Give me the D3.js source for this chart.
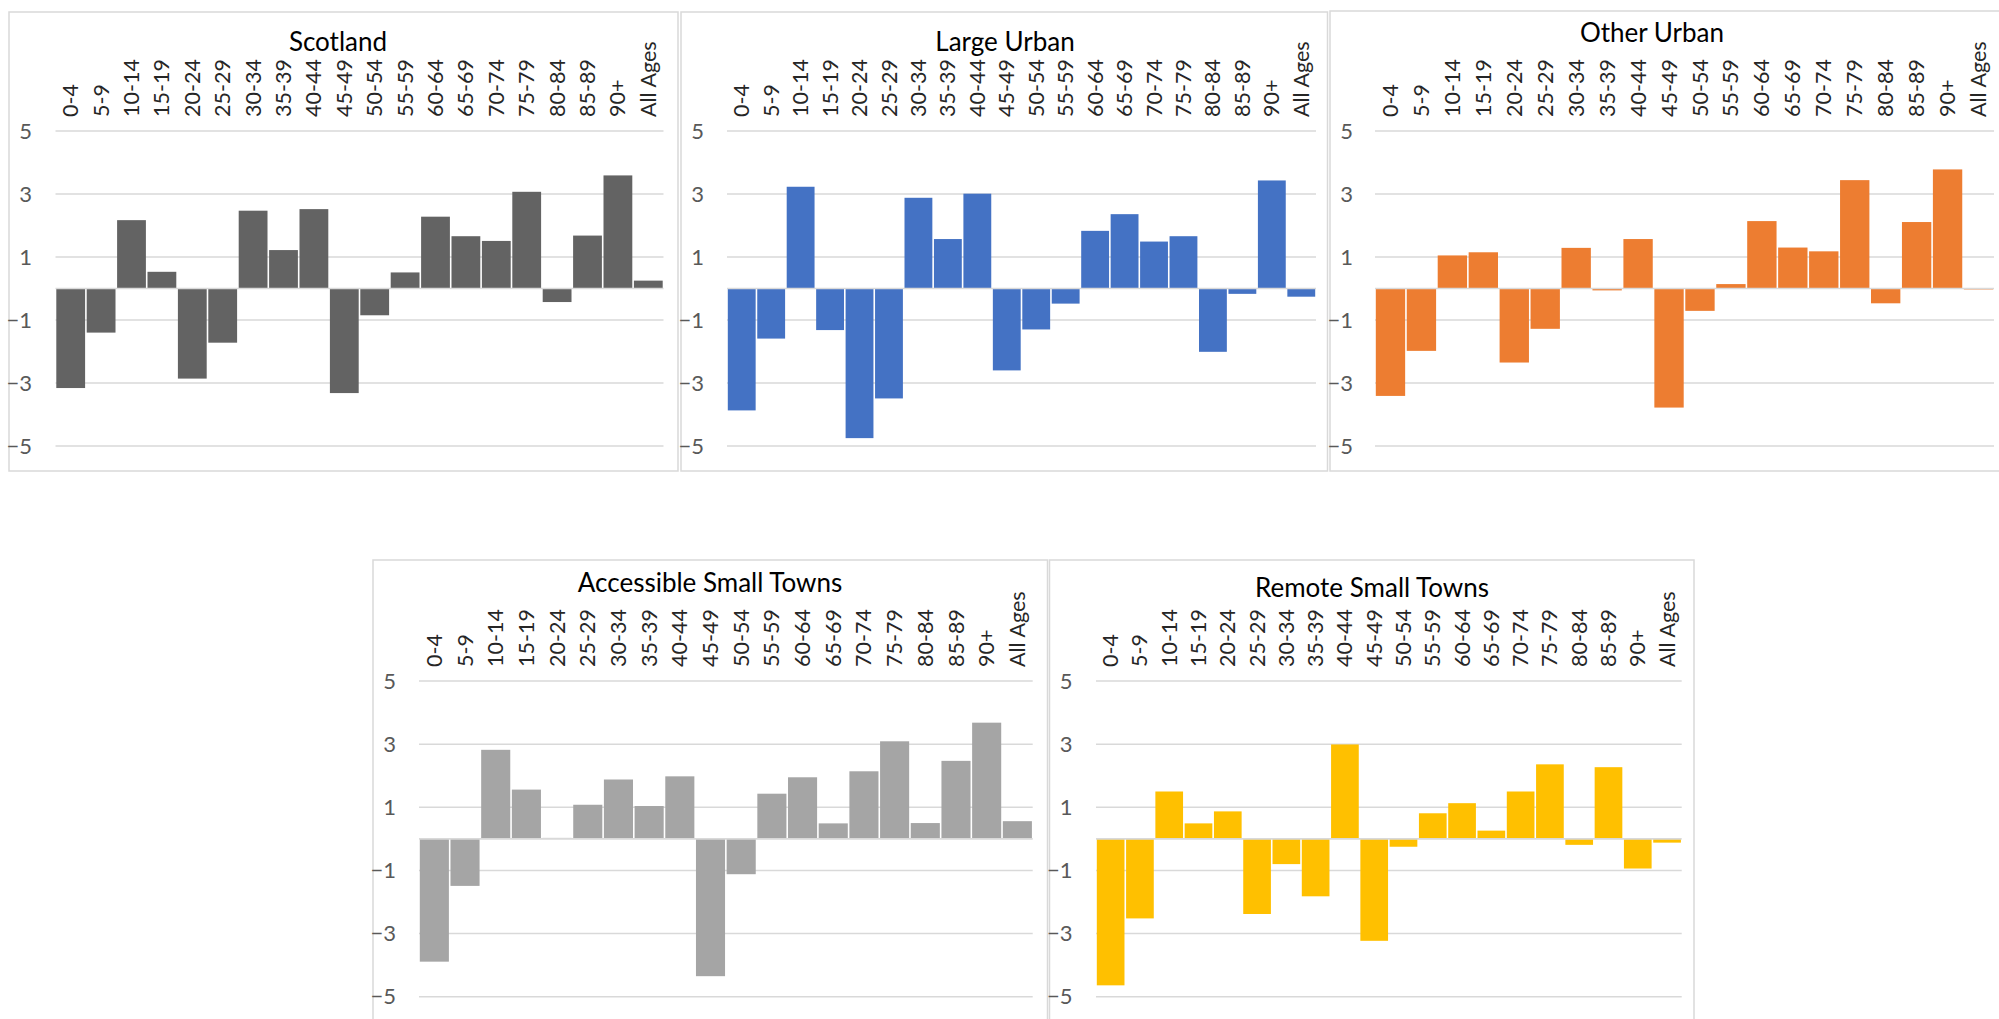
<!DOCTYPE html>
<html>
<head>
<meta charset="utf-8">
<script src="https://cdn.jsdelivr.net/npm/d3@7/dist/d3.min.js"></script>
<style>
  html, body { margin: 0; padding: 0; background: #fff; }
  svg { display: block; }
  text { font-family: Lato, "Open Sans", sans-serif; }
</style>
</head>
<body>
<svg id="chart" width="1999" height="1019"></svg>
<script>
// Age bands along the x axis
const ageGroups = ["0-4", "5-9", "10-14", "15-19", "20-24", "25-29", "30-34", "35-39",
  "40-44", "45-49", "50-54", "55-59", "60-64", "65-69", "70-74", "75-79",
  "80-84", "85-89", "90+", "All Ages"];

// Percentage change by age band for each area type
const scotland = [-3.16, -1.40, 2.17, 0.53, -2.86, -1.72, 2.47, 1.22, 2.52, -3.32,
  -0.85, 0.51, 2.28, 1.66, 1.51, 3.07, -0.43, 1.68, 3.59, 0.25];
const largeUrban = [-3.87, -1.59, 3.23, -1.32, -4.75, -3.49, 2.88, 1.57, 3.01, -2.60,
  -1.30, -0.48, 1.83, 2.36, 1.49, 1.66, -2.01, -0.17, 3.43, -0.26];
const otherUrban = [-3.41, -1.98, 1.05, 1.15, -2.35, -1.28, 1.29, -0.06, 1.57, -3.78,
  -0.71, 0.14, 2.14, 1.30, 1.18, 3.44, -0.47, 2.11, 3.78, -0.03];
const accessibleSmallTowns = [-3.89, -1.49, 2.82, 1.56, 0.03, 1.08, 1.88, 1.04, 1.98, -4.35,
  -1.12, 1.43, 1.95, 0.49, 2.14, 3.09, 0.50, 2.47, 3.68, 0.56];
const remoteSmallTowns = [-4.64, -2.52, 1.50, 0.49, 0.87, -2.38, -0.80, -1.82, 2.99, -3.23,
  -0.25, 0.81, 1.13, 0.26, 1.50, 2.36, -0.19, 2.27, -0.94, -0.12];

// Panel titles and bar colours
const titles = ["Scotland", "Large Urban", "Other Urban", "Accessible Small Towns", "Remote Small Towns"];
const colors = ["#636363", "#4472C4", "#ED7D31", "#A5A5A5", "#FFC000"];

// Value axis ticks
const yTicks = [5, 3, 1, -1, -3, -5];

const seriesList = [scotland, largeUrban, otherUrban, accessibleSmallTowns, remoteSmallTowns];

// Frame and plot geometry for each small-multiple panel
const layout = [
  { box: [9, 12, 678, 471],     plotX: [55.5, 663.5],  plotY: [131, 446],   titleX: 338,  titleY: 42 },
  { box: [681, 12, 1327.5, 471], plotX: [727, 1316],   plotY: [131, 446],   titleX: 1005, titleY: 42 },
  { box: [1330, 11, 2020, 471], plotX: [1375, 1994],   plotY: [131, 446],   titleX: 1652, titleY: 33 },
  { box: [373, 560, 1047.5, 1040], plotX: [419, 1032.7], plotY: [681, 996.7], titleX: 710, titleY: 583 },
  { box: [1049.5, 560, 1694, 1040], plotX: [1096, 1681.7], plotY: [681, 996.7], titleX: 1372, titleY: 588 }
];

const svg = d3.select("#chart");
const gridColor = "#d9d9d9";

layout.forEach((L, i) => {
  const values = seriesList[i];
  const g = svg.append("g");

  // panel frame
  g.append("rect")
    .attr("x", L.box[0]).attr("y", L.box[1])
    .attr("width", L.box[2] - L.box[0]).attr("height", L.box[3] - L.box[1])
    .attr("fill", "#fff").attr("stroke", gridColor).attr("stroke-width", 1.5);

  const x = d3.scaleBand().domain(ageGroups).range(L.plotX).padding(0);
  const y = d3.scaleLinear().domain([-5, 5]).range([L.plotY[1], L.plotY[0]]);

  // horizontal gridlines
  g.append("g").selectAll("line").data(yTicks).join("line")
    .attr("x1", L.plotX[0]).attr("x2", L.plotX[1])
    .attr("y1", d => y(d)).attr("y2", d => y(d))
    .attr("stroke", gridColor).attr("stroke-width", 1.5);

  // value axis labels
  const yAxis = d3.axisLeft(y).tickValues(yTicks).tickSize(0).tickPadding(0)
    .tickFormat(d3.format("d"));
  const ya = g.append("g").attr("transform", `translate(${L.box[0] + 23},0)`).call(yAxis);
  ya.select(".domain").remove();
  ya.selectAll("text")
    .attr("fill", "#595959").style("font-size", "22px").style("font-family", "Lato, 'Open Sans', sans-serif");

  // bars
  g.append("g").selectAll("rect").data(ageGroups).join("rect")
    .attr("x", d => x(d) + 0.8)
    .attr("width", x.bandwidth() - 1.6)
    .attr("y", (d, j) => y(Math.max(values[j], 0)))
    .attr("height", (d, j) => Math.abs(y(values[j]) - y(0)))
    .attr("fill", colors[i]);

  // zero axis line
  g.append("line")
    .attr("x1", L.plotX[0]).attr("x2", L.plotX[1])
    .attr("y1", y(0)).attr("y2", y(0))
    .attr("stroke", gridColor).attr("stroke-width", 1.6);

  // category labels, rotated, above the plot
  const xAxis = d3.axisTop(x).tickSize(0).tickPadding(0);
  const xa = g.append("g").attr("transform", `translate(0,${L.plotY[0] - 14})`).call(xAxis);
  xa.select(".domain").remove();
  xa.selectAll("text")
    .attr("transform", "rotate(-90)")
    .attr("x", 0).attr("y", 0).attr("dy", "0.35em")
    .attr("text-anchor", "start")
    .attr("fill", "#262626")
    .style("font-size", "21.5px")
    .style("font-family", "Lato, 'Open Sans', sans-serif");

  // panel title
  g.append("text")
    .attr("x", L.titleX).attr("y", L.titleY)
    .attr("dy", "0.35em")
    .attr("text-anchor", "middle")
    .attr("fill", "#000")
    .style("font-size", "26px")
    .text(titles[i]);
});
</script>
</body>
</html>
